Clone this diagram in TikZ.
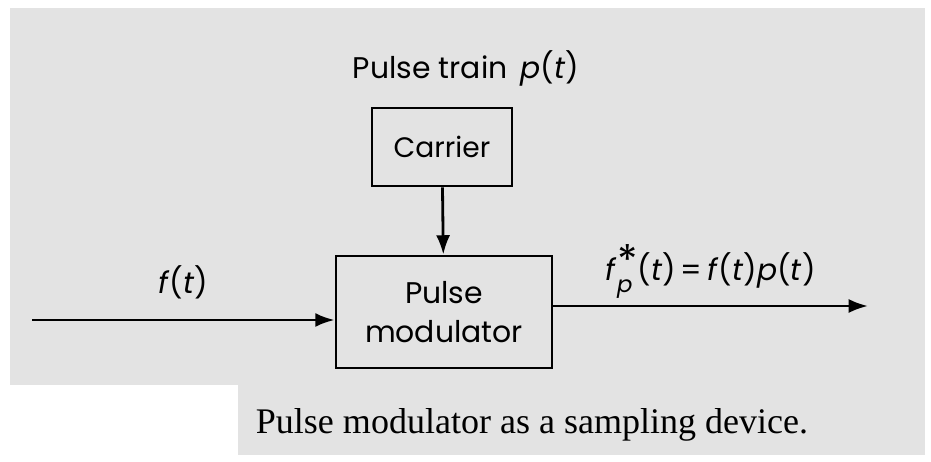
\documentclass[tikz,border=0pt]{standalone}
\usepackage{fontspec}
\setmainfont{Poppins}
\newfontfamily\capfont{Liberation Serif}
\usetikzlibrary{arrows.meta}
\tikzset{
    block/.style={draw, line width=1.6pt, minimum width=#1},
    sig/.style={line width=1.6pt, -{Latex[length=11pt,width=8pt]}}
}
\newcommand{\sampled}{\textit{f}\rlap{\raisebox{-7pt}{\fontsize{13}{14}\selectfont\textit{p}}}\raisebox{3pt}{\fontsize{24}{24}\selectfont *}}
\begin{document}
\begin{tikzpicture}[x=0.02cm, y=-0.02cm]
            \useasboundingbox (0,0) rectangle (931,462);
            \fill[black!11] (10,8) rectangle (925,385);
            \fill[black!11] (238,385) rectangle (925,455);

            \node[font=\fontsize{17}{20}\selectfont] (train) at (466,68) {Pulse train\, \textit{p}(\textit{t})};
            \node[block=140*0.02cm, minimum height=78*0.02cm, font=\fontsize{16}{20}\selectfont] (carrier) at (442,147) {Carrier};
            \node[block=216*0.02cm, minimum height=112*0.02cm, align=center, font=\fontsize{17}{22}\selectfont] (mod) at (444,312) {Pulse\\modulator};
            \coordinate (in) at (32,320);
            \coordinate (out) at (868,306);

            \draw[sig] (carrier) -- (mod);
            \draw[sig] (in) -- node[above=8pt, font=\fontsize{17}{20}\selectfont] {\textit{f}(\textit{t})} (in -| mod.west);
            \draw[sig] (mod.east |- out) -- node[above=0pt, font=\fontsize{17}{20}\selectfont] {\sampled(\textit{t})\,=\,\textit{f}(\textit{t})\textit{p}(\textit{t})} (out);

            \node[font=\capfont\fontsize{20.5}{24}\selectfont] (caption) at (532,425) {Pulse modulator as a sampling device.};
        \end{tikzpicture}
\end{document}
